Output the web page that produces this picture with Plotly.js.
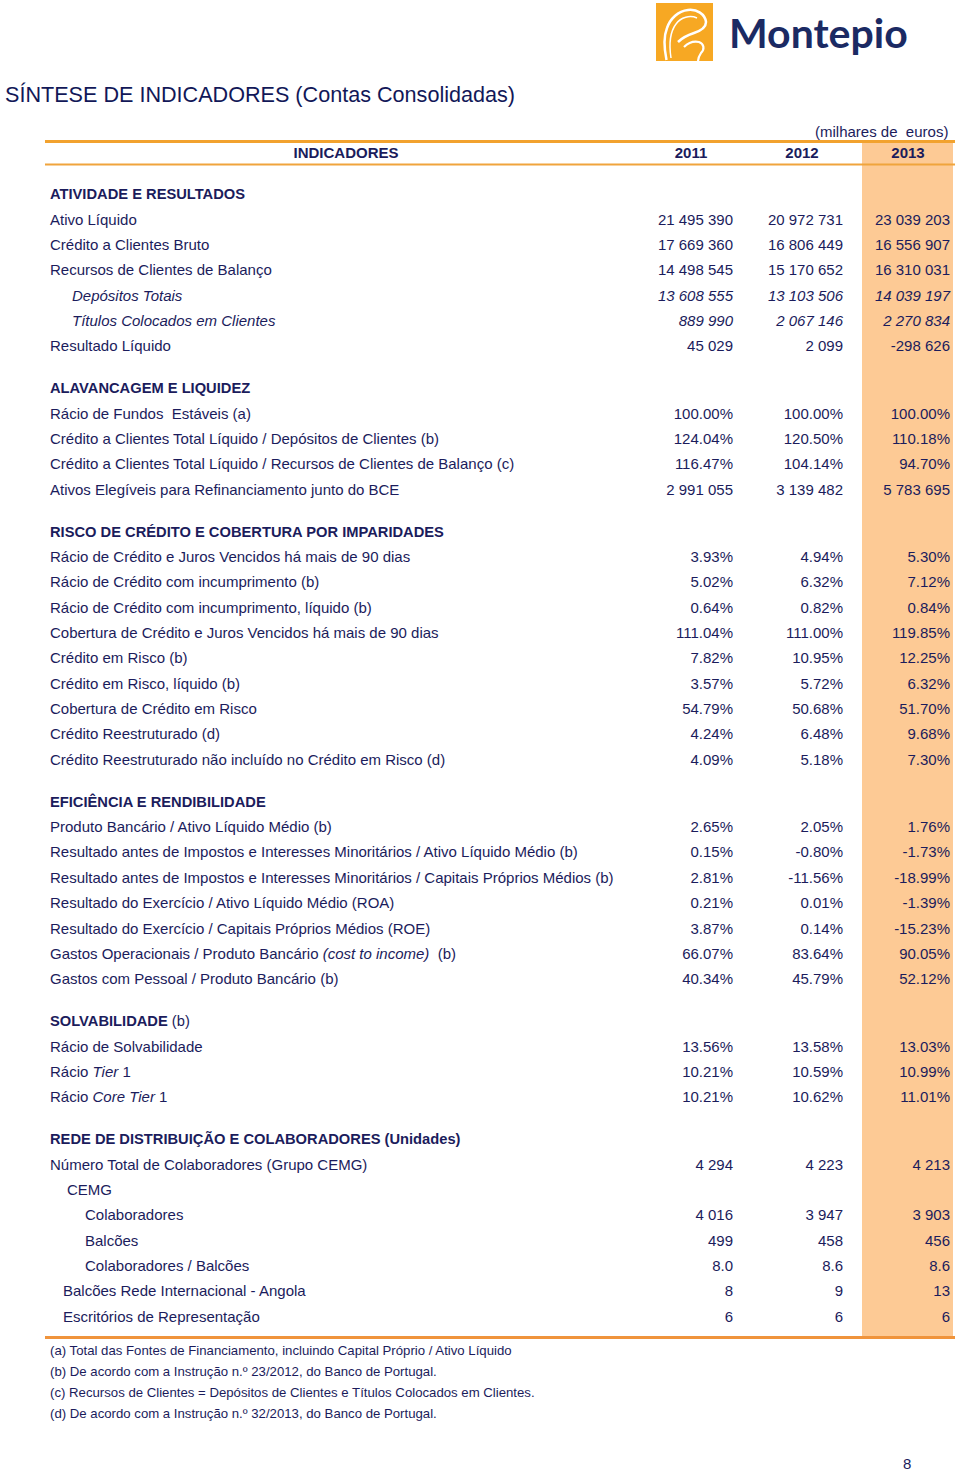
<!DOCTYPE html>
<html>
<head>
<meta charset="utf-8">
<script src="https://cdn.plot.ly/plotly-3.0.1.min.js"></script>
<style>
  body { margin: 0; background: #fff; }
  #page { width: 960px; height: 1472px; }
</style>
</head>
<body>
<div id="page"></div>
<script>
// ---- data (milhares de euros) ----
const years = ['2011', '2012', '2013'];

const sectionTitles = [
  'ATIVIDADE E RESULTADOS',
  'ALAVANCAGEM E LIQUIDEZ',
  'RISCO DE CRÉDITO E COBERTURA POR IMPARIDADES',
  'EFICIÊNCIA E RENDIBILIDADE',
  'SOLVABILIDADE',
  'REDE DE DISTRIBUIÇÃO E COLABORADORES (Unidades)'
];
const sectionNotes = ['', '', '', '', '(b)', ''];

const rowSection = [
  0, 0, 0, 0, 0, 0,
  1, 1, 1, 1,
  2, 2, 2, 2, 2, 2, 2, 2, 2,
  3, 3, 3, 3, 3, 3, 3,
  4, 4, 4,
  5, 5, 5, 5, 5, 5, 5
];

const rowLabels = [
  'Ativo Líquido',
  'Crédito a Clientes Bruto',
  'Recursos de Clientes de Balanço',
  'Depósitos Totais',
  'Títulos Colocados em Clientes',
  'Resultado Líquido',

  'Rácio de Fundos&nbsp; Estáveis (a)',
  'Crédito a Clientes Total Líquido / Depósitos de Clientes (b)',
  'Crédito a Clientes Total Líquido / Recursos de Clientes de Balanço (c)',
  'Ativos Elegíveis para Refinanciamento junto do BCE',

  'Rácio de Crédito e Juros Vencidos há mais de 90 dias',
  'Rácio de Crédito com incumprimento (b)',
  'Rácio de Crédito com incumprimento, líquido (b)',
  'Cobertura de Crédito e Juros Vencidos há mais de 90 dias',
  'Crédito em Risco (b)',
  'Crédito em Risco, líquido (b)',
  'Cobertura de Crédito em Risco',
  'Crédito Reestruturado (d)',
  'Crédito Reestruturado não incluído no Crédito em Risco (d)',

  'Produto Bancário / Ativo Líquido Médio (b)',
  'Resultado antes de Impostos e Interesses Minoritários / Ativo Líquido Médio (b)',
  'Resultado antes de Impostos e Interesses Minoritários / Capitais Próprios Médios (b)',
  'Resultado do Exercício / Ativo Líquido Médio (ROA)',
  'Resultado do Exercício / Capitais Próprios Médios (ROE)',
  'Gastos Operacionais / Produto Bancário <i>(cost to income)</i>&nbsp; (b)',
  'Gastos com Pessoal / Produto Bancário (b)',

  'Rácio de Solvabilidade',
  'Rácio <i>Tier</i> 1',
  'Rácio <i>Core Tier</i> 1',

  'Número Total de Colaboradores (Grupo CEMG)',
  'CEMG',
  'Colaboradores',
  'Balcões',
  'Colaboradores / Balcões',
  'Balcões Rede Internacional - Angola',
  'Escritórios de Representação'
];

const val2011 = [
  21495390, 17669360, 14498545, 13608555, 889990, 45029,
  100.00, 124.04, 116.47, 2991055,
  3.93, 5.02, 0.64, 111.04, 7.82, 3.57, 54.79, 4.24, 4.09,
  2.65, 0.15, 2.81, 0.21, 3.87, 66.07, 40.34,
  13.56, 10.21, 10.21,
  4294, null, 4016, 499, 8.0, 8, 6
];
const val2012 = [
  20972731, 16806449, 15170652, 13103506, 2067146, 2099,
  100.00, 120.50, 104.14, 3139482,
  4.94, 6.32, 0.82, 111.00, 10.95, 5.72, 50.68, 6.48, 5.18,
  2.05, -0.80, -11.56, 0.01, 0.14, 83.64, 45.79,
  13.58, 10.59, 10.62,
  4223, null, 3947, 458, 8.6, 9, 6
];
const val2013 = [
  23039203, 16556907, 16310031, 14039197, 2270834, -298626,
  100.00, 110.18, 94.70, 5783695,
  5.30, 7.12, 0.84, 119.85, 12.25, 6.32, 51.70, 9.68, 7.30,
  1.76, -1.73, -18.99, -1.39, -15.23, 90.05, 52.12,
  13.03, 10.99, 11.01,
  4213, null, 3903, 456, 8.6, 13, 6
];
// n = thousands, p = percent, d = one decimal
const rowFormat = [
  'n', 'n', 'n', 'n', 'n', 'n',
  'p', 'p', 'p', 'n',
  'p', 'p', 'p', 'p', 'p', 'p', 'p', 'p', 'p',
  'p', 'p', 'p', 'p', 'p', 'p', 'p',
  'p', 'p', 'p',
  'n', 'n', 'n', 'n', 'd', 'n', 'n'
];

const footnotes = [
  '(a) Total das Fontes de Financiamento, incluindo Capital Próprio / Ativo Líquido',
  '(b) De acordo com a Instrução n.º 23/2012, do Banco de Portugal.',
  '(c) Recursos de Clientes = Depósitos de Clientes e Títulos Colocados em Clientes.',
  '(d) De acordo com a Instrução n.º 32/2013, do Banco de Portugal.'
];

// ---- layout / style ----
const NAVY = '#1b1c5c';
const FONT = 'Liberation Sans, Arial, sans-serif';
const LEFT = 50;
const COL_RIGHT = [733, 843, 950];
const COL_CENTER = [691, 802, 908];
const Y0 = 195.5, STEP = 25.35, GAP = 16.6;
const rowIndent = [
  0, 0, 0, 22, 22, 0,
  0, 0, 0, 0,
  0, 0, 0, 0, 0, 0, 0, 0, 0,
  0, 0, 0, 0, 0, 0, 0,
  0, 0, 0,
  0, 17, 35, 35, 35, 13, 13
];
const rowItalic = rowLabels.map((l, i) => i === 3 || i === 4);

function fmt(v, f) {
  if (v === null) return '';
  if (f === 'p') return v.toFixed(2) + '%';
  if (f === 'd') return v.toFixed(1);
  var s = Math.abs(v).toString().replace(/\B(?=(\d{3})+(?!\d))/g, ' ');
  return (v < 0 ? '-' : '') + s;
}
const ital = (s, on) => on ? '<i>' + s + '</i>' : s;

// row positions
var headY = [], rowY = [];
var k = 0;
sectionTitles.forEach(function(t, s) {
  headY.push(Y0 + STEP * k + GAP * s); k++;
  rowSection.forEach(function(sec, i) {
    if (sec === s) { rowY[i] = Y0 + STEP * k + GAP * s; k++; }
  });
});

const textTrace = (x, y, text, pos, extra) => Object.assign({
  type: 'scatter', mode: 'text', x: x, y: y, text: text,
  textposition: pos, cliponaxis: false, hoverinfo: 'skip',
  textfont: {family: FONT, size: 15, color: NAVY}
}, extra || {});

var traces = [];
traces.push(textTrace(headY.map(() => LEFT), headY,
  sectionTitles.map((t, s) => '<b>' + t + '</b>' + (sectionNotes[s] ? ' ' + sectionNotes[s] : '')),
  'middle right', {textfont: {family: FONT, size: 14.7, color: NAVY}}));
traces.push(textTrace(rowLabels.map((l, i) => LEFT + rowIndent[i]), rowY,
  rowLabels.map((l, i) => ital(l, rowItalic[i])), 'middle right'));
[val2011, val2012, val2013].forEach(function(vals, j) {
  traces.push(textTrace(vals.map(() => COL_RIGHT[j]), rowY,
    vals.map((v, i) => ital(fmt(v, rowFormat[i]), rowItalic[i])), 'middle left'));
});
// column header
traces.push(textTrace(COL_CENTER.concat([346]), [154.5, 154.5, 154.5, 154.5],
  years.concat(['INDICADORES']).map(t => '<b>' + t + '</b>'), 'middle center'));
// footnotes
traces.push(textTrace(footnotes.map(() => LEFT), footnotes.map((f, i) => 1351.5 + 21 * i),
  footnotes, 'middle right', {textfont: {family: FONT, size: 13.2, color: NAVY}}));

var layout = {
  width: 960, height: 1472,
  margin: {l: 0, r: 0, t: 0, b: 0},
  paper_bgcolor: '#fff', plot_bgcolor: '#fff',
  showlegend: false, hovermode: false,
  title: {
    text: 'SÍNTESE DE INDICADORES (Contas Consolidadas)',
    font: {family: FONT, size: 21.6, color: '#121858'},
    x: 5 / 960, xanchor: 'left', y: 1 - 94.5 / 1472, yanchor: 'middle'
  },
  xaxis: {range: [0, 960], visible: false, fixedrange: true},
  yaxis: {range: [1472, 0], visible: false, fixedrange: true},
  shapes: [
    {type: 'rect', layer: 'below', x0: 862, x1: 953, y0: 142, y1: 1337,
     fillcolor: '#fdca95', line: {width: 0}},
    {type: 'line', x0: 45, x1: 955, y0: 141.5, y1: 141.5, line: {color: '#f2a22e', width: 3}},
    {type: 'line', x0: 45, x1: 955, y0: 164.5, y1: 164.5, line: {color: '#f0a43c', width: 2}},
    {type: 'line', x0: 45, x1: 955, y0: 1337.5, y1: 1337.5, line: {color: '#f0943c', width: 3}},
    // logo
    {type: 'rect', x0: 656, x1: 713, y0: 3, y1: 61, fillcolor: '#f7a823', line: {width: 0}},
    {type: 'path', path: 'M 666.5 60 C 664 48, 663 38, 667 28 C 670 19, 678 11, 688 10 C 697 9, 705 14, 706 22 C 706 28, 700 31, 694 33 C 688 35, 682 38, 678 42',
     line: {color: '#fff', width: 2.5}},
    {type: 'path', path: 'M 671 58 C 669 45, 670 32, 676 24 C 681 17, 690 15, 697 18',
     line: {color: '#fff', width: 1.5}},
    {type: 'path', path: 'M 684 47 C 688 43, 694 41, 699 42 C 704 44, 705 49, 701 53 C 699 56, 698 58, 698 61',
     line: {color: '#fff', width: 2.2}}
  ],
  annotations: [
    {text: '<b>Montepio</b>', x: 727, y: 32, xref: 'x', yref: 'y', xanchor: 'left', yanchor: 'middle',
     showarrow: false, font: {family: 'Lato, sans-serif', size: 41, color: '#1b2a63'}},
    {text: '(milhares de&nbsp; euros)', x: 950, y: 131, xref: 'x', yref: 'y', xanchor: 'right',
     yanchor: 'middle', showarrow: false, font: {family: FONT, size: 15, color: NAVY}},
    {text: '8', x: 907, y: 1463, xref: 'x', yref: 'y', xanchor: 'center', yanchor: 'middle',
     showarrow: false, font: {family: FONT, size: 15, color: NAVY}}
  ]
};

Plotly.newPlot('page', traces, layout, {displayModeBar: false, staticPlot: true});
</script>
</body>
</html>
